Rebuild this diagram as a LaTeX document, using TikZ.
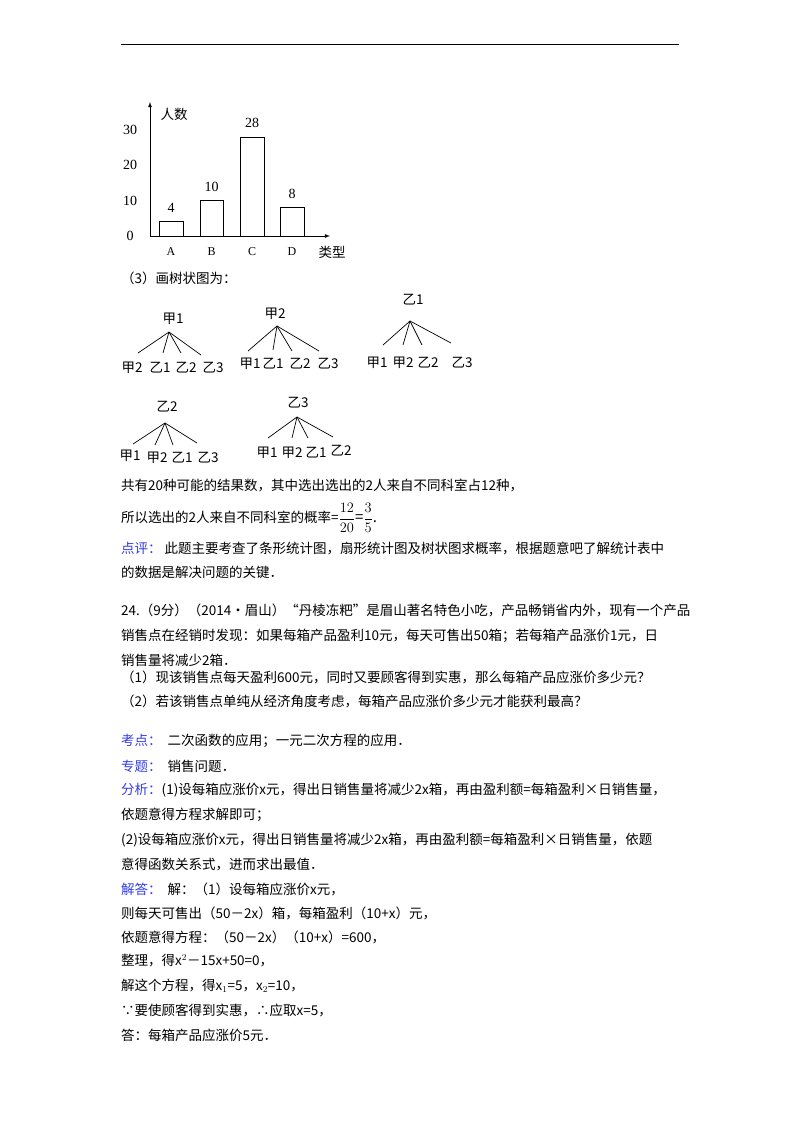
\documentclass[tikz,border=0pt]{standalone}
\usepackage{fontspec}
\setmainfont{Liberation Serif}
\newfontfamily\cjk{Noto Sans CJK SC}
\definecolor{kb}{RGB}{50,60,230}
\begin{document}
\begin{tikzpicture}[x=1pt,y=-1pt,
  txt/.style={anchor=west,inner sep=0pt,font=\cjk\fontsize{13.5}{14}\selectfont},
  tl/.style={inner sep=0pt,font=\cjk\fontsize{13.5}{14}\selectfont},
  cl/.style={inner sep=0pt,font=\fontsize{14}{15}\selectfont},
  br/.style={line width=0.8pt}]
\useasboundingbox (0,0) rectangle (800,1132);
\fill[white] (0,0) rectangle (800,1132);
\draw[line width=0.8pt] (121,44) -- (679,44);
% chart
\coordinate (o) at (150,236);
\coordinate (yt) at (150,102);
\coordinate (xt) at (330,236);
\draw[-latex,line width=0.8pt] (o) -- (yt);
\draw[-latex,line width=0.8pt] (o) -- (xt);
\node[tl] (yl) at (174,114) {人数};
\node[tl] (xl) at (332,252) {类型};
\foreach \v/\yy in {0/236,10/200.7,20/165.4,30/130}{\node[cl] (t\v) at (130,\yy) {\v};}
\foreach \n/\a/\b/\h in {A/159/183/4,B/200/223/10,C/240/264/28,D/280/304/8}{
  \draw[br] (\a,236) rectangle (\b,{236-3.53*\h});
  \node[cl] (v\n) at ({(\a+\b)/2},{236-3.53*\h-14}) {\h};
  \node[cl,font=\fontsize{12}{13}\selectfont] (l\n) at ({(\a+\b)/2},252) {\n};}
\node[txt] (s3) at (121,278) {（3）画树状图为：};
% trees
\newcommand{\mytree}[9]{%
  \node[tl] (r#1) at #2 {#3};
  \coordinate (a#1) at #4;
  \foreach \ex/\ey/\lx/\ly/\lab [count=\i] in {#5,#6,#7,#8}{
    \coordinate (e#1\i) at (\ex,\ey);
    \draw[line width=0.7pt] (a#1) -- (e#1\i);
    \node[tl] (n#1\i) at (\lx,\ly) {\lab};}}
\mytree{1}{(173,319)}{甲1}{(169,332)}{138/353/132/368/甲2}{163/353/160/368/乙1}{181/353/186/368/乙2}{201/355/213/368/乙3}{}
\mytree{2}{(275,314)}{甲2}{(277,326)}{248/351/250/364/甲1}{273/350/273/364/乙1}{292/351/300/364/乙2}{319/351/328/364/乙3}{}
\mytree{3}{(413,300)}{乙1}{(410,321)}{383/345/377/363/甲1}{403/345/403/363/甲2}{422/345/428/363/乙2}{451/343/462/363/乙3}{}
\mytree{4}{(167,407)}{乙2}{(165,423)}{133/444/130/456/甲1}{155/445/157/458/甲2}{173/445/182/458/乙1}{197/443/208/458/乙3}{}
\mytree{5}{(298,403)}{乙3}{(297,417)}{268/438/267/453/甲1}{292/438/292/453/甲2}{308/438/316/453/乙1}{333/437/341/451/乙2}{}
% text
\node[txt] (p1) at (121,485) {共有20种可能的结果数，其中选出选出的2人来自不同科室占12种，};
\node[txt] (p2) at (121,518) {所以选出的2人来自不同科室的概率=\fontsize{15}{16}\selectfont$\displaystyle\frac{12}{20}$=$\displaystyle\frac{3}{5}$.};
\node[txt] (p3) at (121,548) {\textcolor{kb}{点评：}\ 此题主要考查了条形统计图，扇形统计图及树状图求概率，根据题意吧了解统计表中};
\node[txt] (p4) at (121,572) {的数据是解决问题的关键．};
\node[txt] (q1) at (121,610) {24.（9分）（2014•眉山）“丹棱冻粑”是眉山著名特色小吃，产品畅销省内外，现有一个产品};
\node[txt] (q2) at (121,636) {销售点在经销时发现：如果每箱产品盈利10元，每天可售出50箱；若每箱产品涨价1元，日};
\node[txt] (q3) at (121,660) {销售量将减少2箱．};
\node[txt] (q4) at (121,677) {（1）现该销售点每天盈利600元，同时又要顾客得到实惠，那么每箱产品应涨价多少元？};
\node[txt] (q5) at (121,701) {（2）若该销售点单纯从经济角度考虑，每箱产品应涨价多少元才能获利最高？};
\node[txt] (k1) at (121,741) {\textcolor{kb}{考点：}\ \ 二次函数的应用；一元二次方程的应用．};
\node[txt] (k2) at (121,766) {\textcolor{kb}{专题：}\ \ 销售问题．};
\node[txt] (k3) at (121,790) {\textcolor{kb}{分析：}(1)设每箱应涨价x元，得出日销售量将减少2x箱，再由盈利额=每箱盈利×日销售量，};
\node[txt] (k4) at (121,815) {依题意得方程求解即可；};
\node[txt] (k5) at (121,840) {(2)设每箱应涨价x元，得出日销售量将减少2x箱，再由盈利额=每箱盈利×日销售量，依题};
\node[txt] (k6) at (121,864) {意得函数关系式，进而求出最值．};
\node[txt] (j1) at (121,889) {\textcolor{kb}{解答：}\ \ 解：（1）设每箱应涨价x元，};
\node[txt] (j2) at (121,913) {则每天可售出（50－2x）箱，每箱盈利（10+x）元，};
\node[txt] (j3) at (121,937) {依题意得方程：（50－2x）（10+x）=600，};
\node[txt] (j4) at (121,961) {整理，得x$^{2}$－15x+50=0，};
\node[txt] (j5) at (121,986) {解这个方程，得x$_1$=5，x$_2$=10，};
\node[txt] (j6) at (121,1010) {∵要使顾客得到实惠，∴应取x=5，};
\node[txt] (j7) at (121,1035) {答：每箱产品应涨价5元．};
\end{tikzpicture}
\end{document}
